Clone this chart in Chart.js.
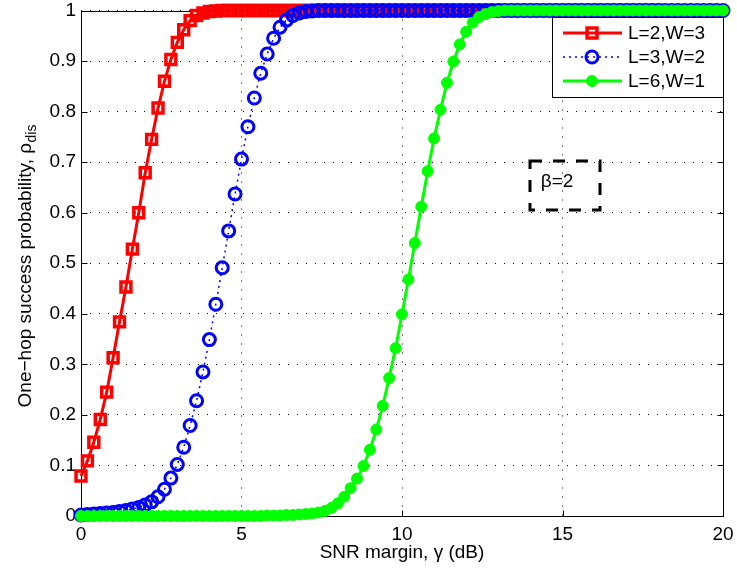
<!DOCTYPE html>
<html><head><meta charset="utf-8">
<script src="https://cdn.jsdelivr.net/npm/chart.js@4"></script>
<style>html,body{margin:0;padding:0;background:#fff}canvas{display:block}</style>
</head><body>
<canvas id="c" width="737" height="575"></canvas>
<script>
const snrMargin = [0,0.2,0.4,0.6,0.8,1,1.2,1.4,1.6,1.8,2,2.2,2.4,2.6,2.8,3,3.2,3.4,3.6,3.8,4,4.2,4.4,4.6,4.8,5,5.2,5.4,5.6,5.8,6,6.2,6.4,6.6,6.8,7,7.2,7.4,7.6,7.8,8,8.2,8.4,8.6,8.8,9,9.2,9.4,9.6,9.8,10,10.2,10.4,10.6,10.8,11,11.2,11.4,11.6,11.8,12,12.2,12.4,12.6,12.8,13,13.2,13.4,13.6,13.8,14,14.2,14.4,14.6,14.8,15,15.2,15.4,15.6,15.8,16,16.2,16.4,16.6,16.8,17,17.2,17.4,17.6,17.8,18,18.2,18.4,18.6,18.8,19,19.2,19.4,19.6,19.8,20];
const successL2W3 = [0.079,0.109,0.146,0.191,0.245,0.313,0.384,0.453,0.528,0.600,0.679,0.745,0.807,0.860,0.903,0.937,0.962,0.980,0.990,0.995,0.998,0.999,
 1,1,1,1,1,1,1,1,1,1,1,1,1,1,1,1,1,1,1,1,1,1,1,1,1,1,1,1,1,1,1,1,1,1,1,1,1,1,1,1,1,1,1,1,1,1,1,1,1,1,1,1,1,1,1,1,1,1,1,1,1,1,1,1,1,1,1,1,1];
const successL3W2 = [0.002,0.003,0.004,0.005,0.006,0.007,0.009,0.011,0.014,0.017,0.022,0.028,0.038,0.053,0.075,0.102,0.136,0.179,0.228,0.285,0.349,0.419,0.491,0.564,0.637,0.706,0.770,0.827,0.876,0.914,0.945,0.967,0.981,0.990,0.995,0.998,0.999,
 1,1,1,1,1,1,1,1,1,1,1,1,1,1,1,1,1,1,1,1,1,1,1,1,1,1,1,1,1,1,1,1,1,1,1,1,1,1,1,1,1,1,1,1,1,1,1,1,1,1,1,1,1,1,1,1,1,1,1,1,1,1,1,1];
const successL6W1 = [0,0,0,0,0,0,0,0,0,0,0,0,0,0,0,0,0,0,0,0,0,0,0,0,0,0,0,0,0,
 0.001,0.001,0.001,0.002,0.002,0.003,0.004,0.005,0.007,0.010,0.016,0.025,0.038,0.055,0.074,0.099,0.131,0.171,0.218,0.273,0.332,0.399,0.468,0.540,0.612,0.682,0.747,0.804,0.857,0.899,0.933,0.958,0.976,0.987,0.993,0.997,0.999,
 1,1,1,1,1,1,1,1,1,1,1,1,1,1,1,1,1,1,1,1,1,1,1,1,1,1,1,1,1,1,1,1,1,1,1];
const seriesLabels = ['L=2,W=3','L=3,W=2','L=6,W=1'];
const xTickValues = [0,5,10,15,20];
const xTickLabels = ['0','5','10','15','20'];
const yTickValues = [0,0.1,0.2,0.3,0.4,0.5,0.6,0.7,0.8,0.9,1];
const yTickLabels = ['0','0.1','0.2','0.3','0.4','0.5','0.6','0.7','0.8','0.9','1'];
const xAxisTitle = 'SNR margin, \u03b3 (dB)';
const yAxisTitle = 'One\u2212hop success probability, \u03c1';
const yAxisTitleSub = 'dis';
const annotationText = '\u03b2=2';

const FONT = "'Liberation Sans', Arial, Helvetica, sans-serif";
const toPts = ys => snrMargin.map((x, i) => ({x: x, y: ys[i]}));

const styles = [
  {color:'#ff0000', lineWidth:3, dash:[], point:'rect', radius:7, pbw:3.5, fill:'rgba(0,0,0,0)'},
  {color:'#0000ff', lineWidth:1.5, dash:[2,4], point:'circle', radius:6, pbw:3, fill:'rgba(0,0,0,0)'},
  {color:'#00ff00', lineWidth:3, dash:[], point:'circle', radius:5.5, pbw:1, fill:'#00ff00'}
];
const seriesData = [successL2W3, successL3W2, successL6W1];

function drawMarker(ctx, st, x, y) {
  ctx.save();
  ctx.setLineDash([]);
  ctx.lineWidth = st.pbw;
  ctx.strokeStyle = st.color;
  ctx.fillStyle = st.fill;
  ctx.beginPath();
  if (st.point === 'rect') {
    const s = Math.SQRT1_2 * st.radius;
    ctx.rect(x - s, y - s, 2 * s, 2 * s);
  } else {
    ctx.arc(x, y, st.radius, 0, Math.PI * 2);
  }
  ctx.fill();
  ctx.stroke();
  ctx.restore();
}

const framePlugin = {
  id: 'frame',
  beforeDatasetsDraw(chart) {
    const ctx = chart.ctx;
    const {left, right, top, bottom} = chart.chartArea;
    const L = Math.round(left) + 0.5, R = Math.round(right) + 0.5, T = Math.round(top) + 0.5, B = Math.round(bottom) + 0.5;
    ctx.save();
    ctx.setLineDash([]);
    ctx.strokeStyle = '#000';
    ctx.lineWidth = 1;
    ctx.strokeRect(L, T, R - L, B - T);
    const tl = 6;
    ctx.beginPath();
    chart.scales.x.ticks.forEach(t => {
      const p = Math.round(chart.scales.x.getPixelForValue(t.value)) + 0.5;
      ctx.moveTo(p, B); ctx.lineTo(p, B - tl);
      ctx.moveTo(p, T); ctx.lineTo(p, T + tl);
    });
    chart.scales.y.ticks.forEach(t => {
      const p = Math.round(chart.scales.y.getPixelForValue(t.value)) + 0.5;
      ctx.moveTo(L, p); ctx.lineTo(L + tl, p);
      ctx.moveTo(R, p); ctx.lineTo(R - tl, p);
    });
    ctx.stroke();
    ctx.restore();
  },
  afterDraw(chart) {
    const ctx = chart.ctx;
    const {top, bottom} = chart.chartArea;
    // Y axis title with subscript
    ctx.save();
    ctx.fillStyle = '#000';
    const cy = (top + bottom) / 2 + 3;
    ctx.translate(31, cy);
    ctx.rotate(-Math.PI / 2);
    ctx.font = '19px ' + FONT;
    const w1 = ctx.measureText(yAxisTitle).width;
    ctx.font = '14px ' + FONT;
    const w2 = ctx.measureText(yAxisTitleSub).width;
    const start = -(w1 + w2) / 2;
    ctx.textBaseline = 'alphabetic';
    ctx.textAlign = 'left';
    ctx.font = '19px ' + FONT;
    ctx.fillText(yAxisTitle, start, 0);
    ctx.font = '14px ' + FONT;
    ctx.fillText(yAxisTitleSub, start + w1 + 0.5, 5);
    ctx.restore();

    // Legend
    ctx.save();
    ctx.setLineDash([]);
    ctx.fillStyle = '#fff';
    ctx.fillRect(552.5, 17.5, 171, 80);
    ctx.strokeStyle = '#000';
    ctx.lineWidth = 1;
    ctx.strokeRect(552.5, 17.5, 171, 80);
    const rows = [33, 57, 81];
    seriesLabels.forEach((lab, i) => {
      const st = styles[i];
      const y = rows[i];
      ctx.save();
      ctx.strokeStyle = st.color;
      ctx.lineWidth = st.lineWidth;
      ctx.setLineDash(st.dash);
      ctx.beginPath();
      ctx.moveTo(563, y); ctx.lineTo(622, y);
      ctx.stroke();
      ctx.restore();
      drawMarker(ctx, st, 592, y);
      ctx.fillStyle = '#000';
      ctx.font = '19px ' + FONT;
      ctx.textBaseline = 'middle';
      ctx.textAlign = 'left';
      ctx.fillText(lab, 628, y + 1);
    });
    ctx.restore();

    // Annotation box
    ctx.save();
    ctx.strokeStyle = '#000';
    ctx.lineWidth = 3;
    ctx.setLineDash([12, 11]);
    ctx.strokeRect(530, 161, 70, 49);
    ctx.setLineDash([]);
    ctx.fillStyle = '#000';
    ctx.font = '19px ' + FONT;
    ctx.textAlign = 'center';
    ctx.textBaseline = 'middle';
    ctx.fillText(annotationText, 557, 182);
    ctx.restore();
  }
};

const datasets = seriesData.map((ys, i) => {
  const st = styles[i];
  return {
    label: seriesLabels[i],
    data: toPts(ys),
    borderColor: st.color,
    backgroundColor: st.color,
    borderWidth: st.lineWidth,
    borderDash: st.dash,
    pointStyle: st.point,
    pointRadius: st.radius,
    pointBorderWidth: st.pbw,
    pointBorderColor: st.color,
    pointBackgroundColor: st.fill,
    pointHoverRadius: st.radius,
    tension: 0,
    fill: false,
    clip: false,
    order: 3 - i
  };
});

const tickFont = {family: FONT, size: 19};

new Chart(document.getElementById('c').getContext('2d'), {
  type: 'line',
  data: {datasets: datasets},
  options: {
    responsive: false,
    animation: false,
    devicePixelRatio: 1,
    layout: {padding: {left: 0, right: 14, top: 8, bottom: 0}},
    plugins: {legend: {display: false}, tooltip: {enabled: false}},
    scales: {
      x: {
        type: 'linear', min: 0, max: 20,
        afterBuildTicks: s => { s.ticks = xTickValues.map(v => ({value: v})); },
        ticks: {callback: (v, i) => xTickLabels[i], font: tickFont, color: '#000', padding: 7, maxRotation: 0, autoSkip: false},
        grid: {color: '#000', lineWidth: 1, drawTicks: false},
        border: {display: false, dash: [1, 8]},
        title: {display: true, text: xAxisTitle, font: tickFont, color: '#000', padding: {top: 0, bottom: 11}},
        afterFit: s => { s.height = 59; s.paddingLeft = 0; s.paddingRight = 0; }
      },
      y: {
        type: 'linear', min: 0, max: 1,
        afterBuildTicks: s => { s.ticks = yTickValues.map(v => ({value: v})); },
        ticks: {callback: (v, i) => yTickLabels[i], font: tickFont, color: '#000', padding: 5, autoSkip: false},
        grid: {color: '#000', lineWidth: 1, drawTicks: false},
        border: {display: false, dash: [1, 8]},
        afterFit: s => { s.width = 81; s.paddingTop = 0; s.paddingBottom = 0; }
      }
    }
  },
  plugins: [framePlugin]
});
</script>
</body></html>
